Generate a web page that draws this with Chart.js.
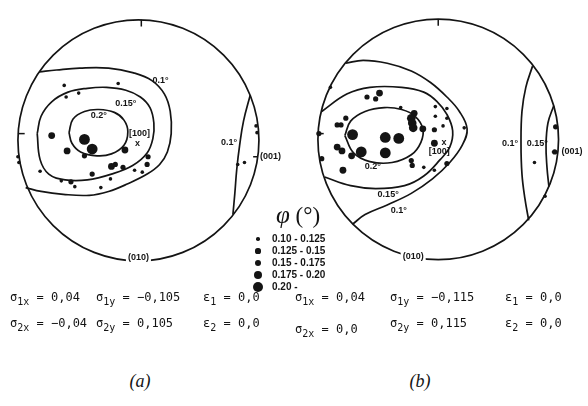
<!DOCTYPE html>
<html>
<head>
<meta charset="utf-8">
<script src="https://cdn.jsdelivr.net/npm/chart.js@4.4.0/dist/chart.umd.min.js"></script>
<style>
  body { margin: 0; background: #fff; }
  #page { position: relative; width: 588px; height: 406px; overflow: hidden; background: #fff; color: #141414; }
  canvas { position: absolute; top: 0; }
  #netA { left: 0; }
  #netB { left: 300px; }
  .phi { position: absolute; left: 276px; top: 201px; font: 23px 'Liberation Serif', serif; white-space: nowrap; }
  .phi i { font-size: 25px; }
  .lg { position: absolute; left: 250px; height: 12px; line-height: 12px; font: bold 10px 'Liberation Sans', sans-serif; white-space: nowrap; }
  .lg .dot { display: inline-block; width: 16px; height: 12px; position: relative; vertical-align: top; }
  .lg .dot b { position: absolute; border-radius: 50%; background: #141414; }
  .lg span.t { margin-left: 6px; }
  .row { position: absolute; font: 12px 'DejaVu Sans Mono', monospace; white-space: nowrap; line-height: 14px; }
  .row sub { font-size: 10px; vertical-align: -4px; line-height: 0; }
  .cap { position: absolute; top: 371px; width: 40px; text-align: center; font: italic 18px 'Liberation Serif', serif; }
</style>
</head>
<body>
<div id="page">
  <canvas id="netA" width="300" height="300"></canvas>
  <canvas id="netB" width="288" height="300"></canvas>
  <div class="phi"><i>φ</i> (°)</div>
  <div id="legendRows"></div>

  <div class="row" style="left:10px; top:290px">σ<sub>1x</sub> = 0,04</div>
  <div class="row" style="left:96px; top:290px">σ<sub>1y</sub> = −0,105</div>
  <div class="row" style="left:203px; top:290px">ε<sub>1</sub> = 0,0</div>
  <div class="row" style="left:10px; top:316px">σ<sub>2x</sub> = −0,04</div>
  <div class="row" style="left:96px; top:316px">σ<sub>2y</sub> = 0,105</div>
  <div class="row" style="left:203px; top:316px">ε<sub>2</sub> = 0,0</div>

  <div class="row" style="left:295px; top:290px">σ<sub>1x</sub> = 0,04</div>
  <div class="row" style="left:390px; top:290px">σ<sub>1y</sub> = −0,115</div>
  <div class="row" style="left:505px; top:290px">ε<sub>1</sub> = 0,0</div>
  <div class="row" style="left:295px; top:322px">σ<sub>2x</sub> = 0,0</div>
  <div class="row" style="left:390px; top:316px">σ<sub>2y</sub> = 0,115</div>
  <div class="row" style="left:505px; top:316px">ε<sub>2</sub> = 0,0</div>

  <div class="cap" style="left:120px">(a)</div>
  <div class="cap" style="left:400px">(b)</div>
</div>
<script>
// Stereographic nets.
// Units: primitive circle radius = 125, origin at the projection centre, y up.
const radiusNet = 125;
const ink = '#141414';

// phi classes and the dot radius used for each class (1..5)
const phiClasses = ['0.10 - 0.125', '0.125 - 0.15', '0.15 - 0.175', '0.175 - 0.20', '0.20 -'];
const dotRadius = [0, 1.8, 2.6, 3.4, 4.3, 5.4];

// ---- (a) ----
const polesA = [
    [-77, 57], [-21, 59], [-75, 45], [-62, 49], [-102, -32], [-80, -42], [-70, -43], [-66, -48],
    [-39, -49], [-29, -40], [-4, -31], [4, -33], [-125, -17], [-124, -23], [122, 15], [123, 8],
    [103, -25], [110, -23], [-90, 5], [-74, -11], [-56, -16], [-48, -35], [-28, -27], [-24, -25],
    [-16, -28], [-14, -10], [10, -17], [9, -25], [-56, 1], [-48, -9]
];
const classA = [1, 1, 1, 1, 1, 1, 2, 1, 1, 1, 1, 1, 1, 1, 1, 1, 1, 1, 3, 3, 2, 2, 3, 2, 2, 3, 2, 2, 5, 5];

const contourA20 = [[-72, 8], [-68, 22], [-56, 30], [-41, 32], [-25, 29], [-15, 21], [-11, 9], [-15, -5],
    [-28, -14], [-43, -16], [-60, -12], [-69, -3], [-72, 8]];
const contourA15 = [[-105, 7], [-101, 25], [-90, 40], [-73, 50], [-53, 54], [-33, 55], [-13, 52], [2, 45],
    [12, 34], [16, 18], [15, 2], [9, -13], [-6, -26], [-28, -35], [-53, -41], [-76, -41], [-93, -35],
    [-102, -20], [-105, 7]];
const contourA10 = [[-103, 71], [-85, 73], [-61, 75], [-31, 75], [-5, 70], [14, 62], [27, 48], [33, 30],
    [34, 7], [30, -12], [22, -25], [9, -35], [-11, -45], [-31, -53], [-51, -57], [-78, -56],
    [-101, -53], [-117, -49]];
const contourA10r = [[116, 47], [109, 20], [105, -5], [102, -30], [100, -55], [98, -77]];
const ticksA = [[[3, 125], [3, 118]], [[-125, 7], [-118, 7]], [[119, -17], [124, -17]]];
const labelsA = [
    { text: '0.1°', at: [23, 62] },
    { text: '0.15°', at: [-13, 38] },
    { text: '0.2°', at: [-41, 26] },
    { text: '[100]', at: [1, 7] },
    { text: 'x', at: [-1, -3] },
    { text: '0.1°', at: [94, -2] },
    { text: '(001)', at: [126, -17], align: 'left' },
    { text: '(010)', at: [0, -122], bg: true }
];

// ---- (b) ----
const polesB = [
    [-74, 44], [-65, 42], [-61, 48], [-39, 33], [-25, 27], [-28, 22], [-27, 17], [-26, 12],
    [-16, 11], [-3, 34], [9, 32], [-3, 24], [9, 22], [5, 14], [-4, 10], [27, 12],
    [-4, -4], [9, -25], [-4, -32], [-15, -29], [-28, -22], [-27, -27], [-41, 1], [-55, 2],
    [-55, -14], [-80, -13], [-89, 5], [-105, -8], [-100, -12], [-90, -17], [-99, -32], [-96, 22],
    [-105, 15], [-101, 15], [-124, 6], [-121, -20], [-112, 54], [111, -59], [100, -24], [122, 13],
    [121, -13]
];
const classB = [2, 2, 3, 1, 3, 4, 4, 4, 3, 1, 1, 1, 1, 1, 2, 1, 3, 2, 1, 1, 2, 2, 5, 5,
    5, 5, 5, 3, 3, 3, 3, 2, 2, 2, 2, 2, 1, 1, 1, 2, 2];

const contourB20 = [[-97, 4], [-91, 19], [-76, 29], [-56, 33], [-38, 31], [-24, 24], [-16, 11], [-18, -3],
    [-28, -16], [-48, -24], [-71, -23], [-88, -14], [-97, 4]];
const contourB15 = [[-121, 29], [-95, 47], [-71, 54], [-38, 54], [-15, 49], [-1, 39], [9, 26], [15, 9],
    [12, -8], [2, -21], [-15, -38], [-35, -48], [-65, -51], [-91, -48], [-118, -39]];
const contourB10 = [[-96, 79], [-78, 82], [-53, 79], [-28, 71], [-8, 59], [9, 44], [22, 29], [30, 11],
    [25, -6], [12, -24], [-6, -41], [-28, -56], [-53, -68], [-76, -78], [-89, -88]];
const contourB10r = [[98, 76], [91, 54], [87, 29], [86, -4], [87, -36], [90, -61], [94, -84]];
const contourB15r = [[120, 35], [114, 17], [112, -6], [113, -29], [115, -49]];
const ticksB = [[[0, 125], [0, 118]], [[-125, 6], [-119, 6]], [[118, -13], [124, -13]]];
const labelsB = [
    { text: '0.2°', at: [-68, -28] },
    { text: '0.15°', at: [-52, -57] },
    { text: '0.1°', at: [-41, -74] },
    { text: '[100]', at: [1, -13] },
    { text: 'x', at: [6, -3] },
    { text: '0.1°', at: [83, -4], align: 'right' },
    { text: '0.15°', at: [103, -4] },
    { text: '(001)', at: [128, -13], align: 'left' },
    { text: '(010)', at: [-26, -122], bg: true }
];

const toXY = pts => pts.map(([x, y]) => ({ x, y }));

// primitive circle + text labels, placed through the chart scales
const netFrame = {
    id: 'netFrame',
    beforeDatasetsDraw(chart) {
        const { ctx, scales: { x, y } } = chart;
        const cx = x.getPixelForValue(0);
        const cy = y.getPixelForValue(0);
        const r = x.getPixelForValue(radiusNet) - cx;
        ctx.save();
        ctx.strokeStyle = ink;
        ctx.lineWidth = 1.7;
        ctx.beginPath();
        ctx.arc(cx, cy, r, 0, Math.PI * 2);
        ctx.stroke();
        ctx.restore();
    },
    afterDatasetsDraw(chart, args, opts) {
        const { ctx, scales: { x, y } } = chart;
        ctx.save();
        ctx.fillStyle = ink;
        ctx.font = "bold 9px 'Liberation Sans', sans-serif";
        ctx.textBaseline = 'middle';
        (opts.labels || []).forEach(l => {
            const px = x.getPixelForValue(l.at[0]);
            const py = y.getPixelForValue(l.at[1]);
            ctx.textAlign = l.align || 'center';
            if (l.bg) {
                const w = ctx.measureText(l.text).width;
                ctx.fillStyle = '#fff';
                ctx.fillRect(px - w / 2 - 2, py - 6, w + 4, 12);
                ctx.fillStyle = ink;
            }
            ctx.fillText(l.text, px, py);
        });
        ctx.restore();
    }
};

function buildNet(canvasId, poles, classes, contours, ticks, labels, xRange, yRange) {
    const datasets = [];
    contours.forEach(c => datasets.push({
        data: toXY(c), showLine: true, pointRadius: 0, borderColor: ink,
        borderWidth: 1.7, tension: 0.4, fill: false, clip: false
    }));
    ticks.forEach(t => datasets.push({
        data: toXY(t), showLine: true, pointRadius: 0, borderColor: ink,
        borderWidth: 1.5, tension: 0, fill: false, clip: false
    }));
    datasets.push({
        data: toXY(poles),
        pointRadius: ctx => dotRadius[classes[ctx.dataIndex]],
        backgroundColor: ink, borderWidth: 0, clip: false
    });

    return new Chart(document.getElementById(canvasId), {
        type: 'scatter',
        data: { datasets },
        options: {
            responsive: false,
            animation: false,
            devicePixelRatio: 1,
            events: [],
            layout: { padding: 0 },
            plugins: {
                legend: { display: false },
                tooltip: { enabled: false },
                netFrame: { labels }
            },
            scales: {
                x: { type: 'linear', min: xRange[0], max: xRange[1], display: false },
                y: { type: 'linear', min: yRange[0], max: yRange[1], display: false }
            }
        },
        plugins: [netFrame]
    });
}

buildNet('netA', polesA, classA, [contourA20, contourA15, contourA10, contourA10r], ticksA, labelsA,
    [-138, 162], [-160, 140]);
buildNet('netB', polesB, classB, [contourB20, contourB15, contourB10, contourB10r, contourB15r], ticksB, labelsB,
    [-138, 150], [-161, 139]);

// phi legend
const legendRows = document.getElementById('legendRows');
phiClasses.forEach((label, i) => {
    const r = dotRadius[i + 1];
    const row = document.createElement('div');
    row.className = 'lg';
    row.style.top = (233 + i * 12) + 'px';
    row.innerHTML = `<span class="dot"><b style="width:${r * 2}px;height:${r * 2}px;left:${8 - r}px;top:${6 - r}px"></b></span><span class="t">${label}</span>`;
    legendRows.appendChild(row);
});
</script>
</body>
</html>
